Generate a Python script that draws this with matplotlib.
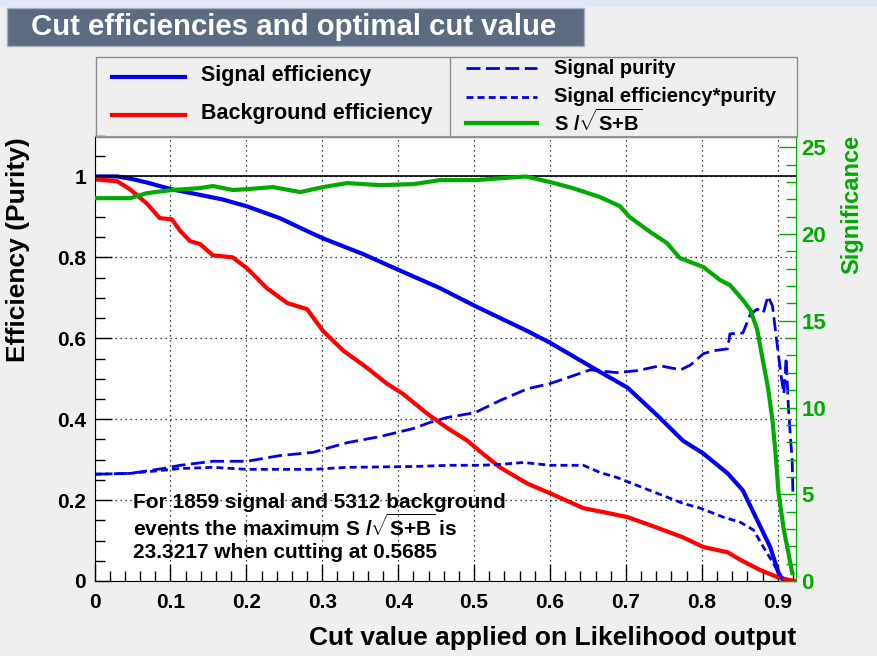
import matplotlib
matplotlib.use("Agg")
import matplotlib.pyplot as plt
from matplotlib.patches import Rectangle
from matplotlib.lines import Line2D
from matplotlib.ticker import MultipleLocator, FuncFormatter

plt.rcParams["font.family"] = ["Liberation Sans", "DejaVu Sans"]
plt.rcParams["font.weight"] = "bold"
plt.rcParams["mathtext.fontset"] = "custom"
plt.rcParams["mathtext.rm"] = "Liberation Sans:bold"
plt.rcParams["mathtext.it"] = "Liberation Sans:bold"
plt.rcParams["mathtext.bf"] = "Liberation Sans:bold"
plt.rcParams["mathtext.sf"] = "Liberation Sans:bold"

# ---- data ----
sig_eff_x = [0.0, 0.03, 0.051, 0.069, 0.102, 0.135, 0.169, 0.201, 0.244, 0.28, 0.301,
             0.354, 0.398, 0.455, 0.501, 0.570, 0.600, 0.663, 0.702, 0.741, 0.775,
             0.802, 0.834, 0.854, 0.873, 0.890, 0.901, 0.908, 0.913]
sig_eff_y = [1.0, 1.0, 0.993, 0.985, 0.968, 0.956, 0.943, 0.926, 0.897, 0.865, 0.847,
             0.808, 0.771, 0.724, 0.680, 0.618, 0.589, 0.520, 0.478, 0.410, 0.347,
             0.315, 0.266, 0.224, 0.150, 0.084, 0.020, 0.0, 0.0]

bkg_eff_x = [0.0, 0.030, 0.047, 0.069, 0.086, 0.102, 0.113, 0.126, 0.139, 0.156, 0.182,
             0.201, 0.227, 0.254, 0.280, 0.301, 0.328, 0.359, 0.385, 0.406, 0.438,
             0.464, 0.491, 0.508, 0.534, 0.570, 0.600, 0.644, 0.679, 0.702, 0.732,
             0.775, 0.802, 0.834, 0.851, 0.877, 0.899, 0.916, 0.924]
bkg_eff_y = [0.993, 0.988, 0.968, 0.933, 0.897, 0.894, 0.865, 0.840, 0.833, 0.805, 0.800,
             0.773, 0.724, 0.687, 0.672, 0.618, 0.569, 0.527, 0.488, 0.463, 0.414,
             0.379, 0.347, 0.320, 0.281, 0.241, 0.217, 0.180, 0.167, 0.158, 0.138,
             0.108, 0.084, 0.071, 0.052, 0.027, 0.010, 0.002, 0.0]

purity_x = [0.0, 0.047, 0.090, 0.113, 0.156, 0.201, 0.244, 0.288, 0.310, 0.333, 0.376,
            0.420, 0.442, 0.464, 0.501, 0.534, 0.570, 0.600, 0.630, 0.653, 0.688,
            0.715, 0.745, 0.772, 0.785, 0.802, 0.815, 0.834, 0.837, 0.854, 0.864,
            0.873, 0.881, 0.887, 0.893, 0.897, 0.904, 0.908, 0.911, 0.914, 0.917,
            0.919, 0.920]
purity_y = [0.264, 0.266, 0.278, 0.286, 0.296, 0.296, 0.310, 0.318, 0.330, 0.342, 0.357,
            0.377, 0.392, 0.404, 0.416, 0.446, 0.475, 0.488, 0.507, 0.522, 0.515,
            0.520, 0.532, 0.522, 0.534, 0.562, 0.569, 0.574, 0.611, 0.613, 0.660,
            0.672, 0.663, 0.704, 0.680, 0.618, 0.512, 0.463, 0.552, 0.429, 0.347,
            0.298, 0.207]

effpur_x = [0.0, 0.047, 0.113, 0.156, 0.201, 0.244, 0.288, 0.333, 0.420, 0.468, 0.508,
            0.534, 0.565, 0.600, 0.644, 0.666, 0.688, 0.715, 0.741, 0.775, 0.798,
            0.828, 0.851, 0.868, 0.881, 0.894, 0.904, 0.910]
effpur_y = [0.264, 0.266, 0.278, 0.281, 0.276, 0.276, 0.276, 0.281, 0.283, 0.286, 0.286,
            0.288, 0.293, 0.286, 0.286, 0.268, 0.256, 0.236, 0.217, 0.192, 0.180,
            0.158, 0.145, 0.126, 0.084, 0.044, 0.010, 0.0]

signif_x = [0.0, 0.047, 0.069, 0.102, 0.139, 0.156, 0.182, 0.201, 0.235, 0.271, 0.301,
            0.333, 0.376, 0.420, 0.455, 0.501, 0.5685, 0.600, 0.630, 0.666, 0.692,
            0.705, 0.732, 0.754, 0.771, 0.802, 0.824, 0.837, 0.854, 0.864, 0.873,
            0.881, 0.887, 0.893, 0.897, 0.901, 0.908, 0.914, 0.919]
signif_y = [22.07, 22.07, 22.36, 22.54, 22.65, 22.77, 22.54, 22.59, 22.71, 22.42, 22.71,
            22.94, 22.82, 22.88, 23.11, 23.11, 23.32, 23.0, 22.65, 22.13, 21.61,
            20.98, 20.12, 19.48, 18.62, 18.10, 17.35, 17.06, 16.20, 15.62, 14.47,
            12.56, 11.18, 9.28, 7.38, 5.07, 2.94, 1.61, 0.46]

max_signif = 23.3217
x_max = 0.924

BLUE = "#0000ee"
RED = "#ff0000"
GREEN = "#00aa00"
W, H = 877, 656
SQRT_LABEL = r"S /$\sqrt{\mathrm{S{+}B}}$"


def fx(px):
    return px / W


def fy(py):
    return 1 - py / H


fig = plt.figure(figsize=(8.77, 6.56), dpi=100, facecolor="#efefef")

# page band and title box
fig.patches.append(Rectangle((0, fy(7)), 1, 7 / H, transform=fig.transFigure,
                             facecolor="#e4e7f7", edgecolor="none"))
fig.patches.append(Rectangle((fx(7), fy(46)), 577 / W, 38 / H, transform=fig.transFigure,
                             facecolor="#5d6b80", edgecolor="#a8b0ba", lw=1))
fig.text(fx(31), fy(27), "Cut efficiencies and optimal cut value", color="white",
         fontsize=21.2, fontweight="bold", va="center", ha="left")

# main axes
ax = fig.add_axes([fx(94.5), fy(581), (796 - 94.5) / W, (581 - 136) / H])
ax.set_facecolor("white")
ax.plot(sig_eff_x, sig_eff_y, color=BLUE, lw=3)
ax.plot(bkg_eff_x, bkg_eff_y, color=RED, lw=3)
ax.plot(purity_x, purity_y, color=BLUE, lw=2, dashes=(5, 2))
ax.plot(effpur_x, effpur_y, color=BLUE, lw=2, dashes=(2.5, 1.5))
ax.axhline(1.0, color="black", lw=1.2)

ax.set_xlim(0, x_max)
ax.set_ylim(0, 1.1)
ax.xaxis.set_major_locator(MultipleLocator(0.1))
ax.xaxis.set_minor_locator(MultipleLocator(0.02))
ax.yaxis.set_major_locator(MultipleLocator(0.2))
ax.yaxis.set_minor_locator(MultipleLocator(0.05))
fmt = FuncFormatter(lambda v, p: "%g" % round(v, 3))
ax.xaxis.set_major_formatter(fmt)
ax.yaxis.set_major_formatter(fmt)
ax.tick_params(which="major", direction="in", length=12, width=1, labelsize=15, pad=6)
ax.tick_params(axis="x", which="major", pad=9)
ax.tick_params(which="minor", direction="in", length=7, width=1)
ax.tick_params(axis="y", right=False, which="both")
ax.tick_params(axis="x", top=False, which="both")
ax.grid(True, which="major", color="black", lw=0.9, linestyle=(0, (1, 3)))
ax.spines["top"].set_color("#999999")
ax.spines["right"].set_visible(False)

# significance on right axis
ax2 = ax.twinx()
ax2.plot(signif_x, signif_y, color=GREEN, lw=3)
ax2.set_ylim(0, 1.1 * max_signif)
ax2.yaxis.set_major_locator(MultipleLocator(5))
ax2.yaxis.set_minor_locator(MultipleLocator(1))
ax2.tick_params(axis="y", which="major", direction="in", length=12, width=1,
                colors=GREEN, labelsize=16, pad=4)
ax2.tick_params(axis="y", which="minor", direction="in", length=7, width=1, colors=GREEN)
for side in ["left", "top", "bottom"]:
    ax2.spines[side].set_visible(False)
ax2.spines["right"].set_color(GREEN)

# axis titles
fig.text(fx(18), fy(137), "Efficiency (Purity)", rotation=90, ha="center", va="top",
         fontsize=19, fontweight="bold")
fig.text(fx(796), fy(638), "Cut value applied on Likelihood output", ha="right",
         va="center", fontsize=19, fontweight="bold")
fig.text(fx(852), fy(135), "Significance", rotation=90, ha="center", va="top",
         fontsize=17, fontweight="bold", color=GREEN)

# annotation
note = ["For 1859 signal and 5312 background",
        "events the maximum " + SQRT_LABEL + " is",
        "23.3217 when cutting at 0.5685"]
for i, line in enumerate(note):
    fig.text(fx(133), fy(502 + 25 * i), line, ha="left", va="center", fontsize=15,
             fontweight="bold")

# legend box
lg = fig.add_axes([fx(96), fy(137), 701 / W, 80 / H])
lg.set_xlim(96, 797)
lg.set_ylim(137, 57)
lg.axis("off")
lg.add_patch(Rectangle((96, 57), 701, 80, facecolor="none", edgecolor="#8c8c8c", lw=1,
                       clip_on=False))
lg.add_line(Line2D([450, 450], [57, 137], color="#8c8c8c", lw=1))
lg.add_line(Line2D([112, 185], [77, 77], color=BLUE, lw=3))
lg.add_line(Line2D([112, 185], [115, 115], color=RED, lw=3))
lg.add_line(Line2D([466, 537], [68, 68], color=BLUE, lw=2, dashes=(5, 2)))
lg.add_line(Line2D([466, 537], [97, 97], color=BLUE, lw=2, dashes=(2.5, 1.5)))
lg.add_line(Line2D([466, 537], [123, 123], color=GREEN, lw=3))
lg.text(201, 75, "Signal efficiency", va="center", fontsize=15.5, fontweight="bold")
lg.text(201, 113, "Background efficiency", va="center", fontsize=15.5, fontweight="bold")
lg.text(554, 69, "Signal purity", va="center", fontsize=14.5, fontweight="bold")
lg.text(554, 96, "Signal efficiency*purity", va="center", fontsize=14.5, fontweight="bold")
lg.text(554, 122, SQRT_LABEL, va="center", fontsize=14.5, fontweight="bold")

fig.savefig("out.png", dpi=100, facecolor=fig.get_facecolor())
